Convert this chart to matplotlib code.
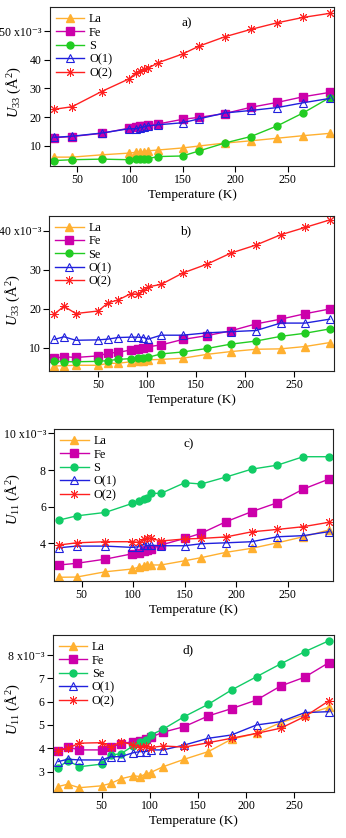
import matplotlib
matplotlib.use('Agg')
import matplotlib.pyplot as plt

plt.rcParams['font.family'] = ['Liberation Serif', 'DejaVu Serif']
plt.rcParams['mathtext.fontset'] = 'custom'
plt.rcParams['mathtext.rm'] = 'Liberation Serif'
plt.rcParams['mathtext.it'] = 'Liberation Serif:italic'

# values in units of 1e-3 A^2
temps_a = [28, 45, 73, 99, 106, 110, 113, 117, 127, 150, 166, 190, 215, 240, 265, 290]
la_a = [6.0, 6.0, 6.8, 7.4, 7.7, 7.9, 7.9, 8.2, 8.5, 9.2, 9.9, 10.9, 11.7, 12.6, 13.5, 14.3]
fe_a = [12.8, 13.2, 14.3, 16.1, 16.4, 16.7, 16.9, 17.2, 17.6, 19.2, 19.9, 21.2, 23.4, 25.1, 27.1, 28.6]
s_a = [4.8, 5.1, 5.3, 5.1, 5.3, 5.4, 5.4, 5.5, 6.2, 6.4, 8.2, 10.9, 13.2, 16.9, 21.5, 26.8]
o1_a = [12.9, 13.3, 14.4, 15.9, 15.9, 16.3, 16.5, 16.9, 17.3, 18.0, 19.4, 21.4, 22.3, 23.3, 25.0, 26.5]
o2_a = [22.7, 23.6, 28.9, 33.3, 35.5, 35.9, 36.6, 37.0, 39.0, 42.0, 44.8, 48.0, 50.6, 52.9, 54.8, 56.2]

temps_b = [5, 15, 27, 50, 60, 70, 83, 90, 96, 101, 114, 136, 161, 185, 211, 236, 261, 286]
la_b = [5.3, 5.4, 5.5, 5.5, 6.0, 6.0, 6.4, 6.5, 6.7, 6.9, 7.0, 7.3, 8.3, 9.0, 9.6, 9.7, 10.3, 11.3]
fe_b = [7.3, 7.7, 7.5, 7.9, 8.6, 8.8, 9.4, 9.7, 9.85, 10.25, 10.7, 12.1, 13.1, 14.3, 16.1, 17.3, 18.7, 19.9]
se_b = [6.6, 6.4, 6.4, 6.5, 6.7, 7.0, 7.2, 7.4, 7.4, 7.55, 8.4, 8.9, 9.8, 10.9, 11.7, 12.9, 13.7, 14.8]
o1_b = [12.1, 12.8, 11.9, 12.0, 12.2, 12.6, 12.7, 12.7, 12.6, 12.2, 13.2, 13.2, 13.8, 14.1, 14.4, 16.3, 16.3, 17.3]
o2_b = [18.6, 20.6, 18.75, 19.4, 21.5, 22.2, 23.8, 23.7, 24.7, 25.6, 26.2, 29.1, 31.4, 34.2, 36.3, 38.9, 40.8, 42.7]

temps_c = temps_a
la_c = [2.15, 2.16, 2.45, 2.6, 2.71, 2.78, 2.82, 2.82, 2.82, 3.05, 3.22, 3.51, 3.73, 4.03, 4.36, 4.73]
fe_c = [2.82, 2.91, 3.14, 3.43, 3.49, 3.58, 3.65, 3.69, 3.91, 4.27, 4.55, 5.18, 5.73, 6.22, 6.96, 7.51]
s_c = [5.27, 5.5, 5.69, 6.18, 6.31, 6.4, 6.49, 6.73, 6.73, 7.31, 7.24, 7.62, 8.05, 8.27, 8.73, 8.73]
o1_c = [3.76, 3.85, 3.85, 3.78, 3.82, 3.93, 3.89, 3.89, 3.87, 3.87, 3.98, 4.03, 4.09, 4.36, 4.42, 4.64]
o2_c = [3.91, 4.03, 4.09, 4.09, 4.05, 4.24, 4.27, 4.27, 4.13, 4.24, 4.27, 4.35, 4.63, 4.76, 4.91, 5.15]

temps_d = temps_b
la_d = [2.36, 2.46, 2.31, 2.39, 2.5, 2.69, 2.82, 2.79, 2.9, 2.96, 3.21, 3.53, 3.86, 4.39, 4.64, 5.1, 5.43, 5.76]
fe_d = [3.89, 4.05, 3.93, 3.93, 4.05, 4.19, 4.29, 4.33, 4.4, 4.47, 4.69, 4.93, 5.39, 5.7, 6.07, 6.67, 7.05, 7.67]
se_d = [3.17, 3.47, 3.21, 3.32, 3.72, 3.76, 4.11, 4.29, 4.36, 4.57, 4.82, 5.36, 5.89, 6.5, 7.07, 7.62, 8.14, 8.61]
o1_d = [3.43, 3.53, 3.5, 3.5, 3.64, 3.64, 3.81, 3.86, 3.86, 3.93, 3.93, 4.14, 4.43, 4.57, 5.0, 5.14, 5.53, 5.57]
o2_d = [3.9, 4.0, 4.22, 4.24, 4.05, 4.29, 4.14, 4.07, 4.1, 4.03, 4.1, 4.05, 4.24, 4.43, 4.64, 4.86, 5.36, 6.03]

x_ticks = [50, 100, 150, 200, 250]

panels = [
    # rect, temps, series, chalcogen, green, ylabel, ylabel pos, xlim, ylim, yticks, tag
    ([0.1445, 0.8019, 0.8208, 0.1897], temps_a, [la_a, fe_a, s_a, o1_a, o2_a], 'S', '#22CC22',
     r'$U_{33}$ (Å$^2$)', (-0.127, 0.465), (24, 294), (2.9, 58.4), [10, 20, 30, 40, 50], 'a)'),
    ([0.1425, 0.5576, 0.8228, 0.1850], temps_b, [la_b, fe_b, se_b, o1_b, o2_b], 'Se', '#22CC22',
     r'$U_{33}$ (Å$^2$)', (-0.128, 0.456), (0, 290.5), (4.1, 43.8), [10, 20, 30, 40], 'b)'),
    ([0.1570, 0.3070, 0.8064, 0.1810], temps_c, [la_c, fe_c, s_c, o1_c, o2_c], 'S', '#11CC66',
     r'$U_{11}$ (Å$^2$)', (-0.15, 0.54), (23.4, 294.3), (1.96, 10.24), [4, 6, 8, 10], 'c)'),
    ([0.1523, 0.0553, 0.8130, 0.1870], temps_d, [la_d, fe_d, se_d, o1_d, o2_d], 'Se', '#11CC66',
     r'$U_{11}$ (Å$^2$)', (-0.141, 0.525), (-0.7, 291.4), (2.14, 8.86), [3, 4, 5, 6, 7, 8], 'd)'),
]

fig = plt.figure(figsize=(3.46, 8.38), dpi=100)

for rect, t, series, chal, green, ylab, ypos, xl, yl, yt, tag in panels:
    ax = fig.add_axes(rect)
    la, fe, ch, o1, o2 = series
    ax.plot(t, la, color='#FFB030', marker='^', ms=5.5, lw=1.0, label='La')
    ax.plot(t, fe, color='#CC00AA', marker='s', ms=5.5, lw=1.0, label='Fe')
    ax.plot(t, ch, color=green, marker='o', ms=5, lw=1.0, label=chal)
    ax.plot(t, o1, color='#2020DD', marker='^', ms=5.5, lw=1.0, mfc='none', mew=0.8, label='O(1)')
    ax.plot(t, o2, color='#FF2020', marker=(8, 2, 0), ms=6.5, lw=1.0, mew=0.7, label='O(2)')

    ax.set_xlim(xl)
    ax.set_ylim(yl)
    ax.set_xticks(x_ticks)
    ax.set_yticks(yt)
    labels = [str(v) for v in yt]
    labels[-1] = labels[-1] + ' x10\u207b\u00b3'
    ax.set_yticklabels(labels)
    ax.tick_params(direction='out', length=4.5, width=0.8, labelsize=8.5, pad=1.5)
    for sp in ax.spines.values():
        sp.set_linewidth(0.8)
        sp.set_color('#222222')

    ax.set_xlabel('Temperature (K)', fontsize=9.5, labelpad=2)
    ax.set_ylabel(ylab, fontsize=10.5, va='center')
    ax.yaxis.set_label_coords(*ypos)
    ax.text(0.48, 0.9, tag, transform=ax.transAxes, fontsize=9.5, ha='center', va='center')
    ax.legend(loc='upper left', frameon=False, fontsize=8.8, handlelength=2.3,
              handletextpad=0.4, labelspacing=0.12, borderaxespad=0.4, borderpad=0.1)

fig.savefig('out.png', dpi=100)
